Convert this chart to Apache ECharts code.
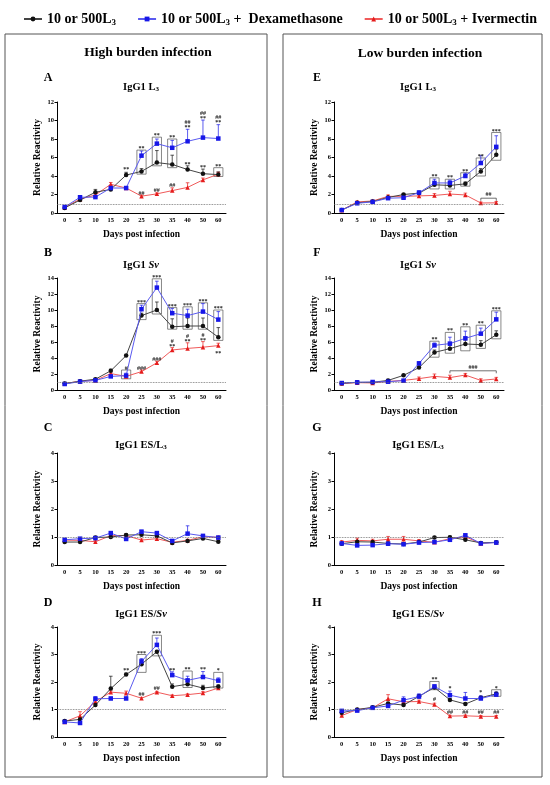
<!DOCTYPE html>
<html lang="en">
<head>
<meta charset="UTF-8">
<title>IgG1 reactivity</title>
<script src="https://cdn.jsdelivr.net/npm/echarts@6/dist/echarts.min.js"></script>
<style>
  html, body { margin: 0; padding: 0; background: #fff; }
  #chart { width: 550px; height: 785px; }
</style>
</head>
<body>
<div id="chart"></div>
<script>
// x categories (days post infection)
var days = ['0', '5', '10', '15', '20', '25', '30', '35', '40', '50', '60'];
var NAME_CTRL = '10 or 500L3';
var NAME_DEX = '10 or 500L3 +  Dexamethasone';
var NAME_IVM = '10 or 500L3 + Ivermectin';

// A - high burden, IgG1 L3
var aCtrl = [0.55, 1.4, 2.25, 2.55, 4.1, 4.5, 5.45, 5.25, 4.7, 4.25, 4.15];
var aDex = [0.65, 1.7, 1.72, 2.7, 2.7, 6.2, 7.5, 7.05, 7.75, 8.15, 8.05];
var aIvm = [0.6, 1.5, 1.95, 3.1, 2.7, 1.82, 2.07, 2.42, 2.77, 3.58, 4.2];
var aCtrlErr = [0.05, 0.1, 0.3, 0.15, 0.3, 0.3, 1.3, 1.0, 0.4, 0.5, 0.3];
var aDexErr = [0.05, 0.1, 0.1, 0.2, 0.1, 0.5, 0.5, 0.8, 1.3, 1.9, 1.5];
var aIvmErr = [0.05, 0.1, 0.1, 0.2, 0.1, 0.1, 0.1, 0.3, 0.5, 0.2, 0.2];
var aBoxes = [[5, 4.2, 6.8], [6, 5.1, 8.2], [7, 4.9, 8.0], [10, 3.95, 4.9]];
var aMarks = [[4, 4.5, '**'], [5, 6.8, '**'], [6, 8.2, '**'], [7, 8.0, '**'], [8, 9.1, '##\n**'],
  [9, 10.1, '##\n**'], [10, 9.6, '##\n**'], [8, 5.1, '**'], [9, 4.8, '**'], [10, 4.9, '**'],
  [5, 2.0, '##'], [6, 2.25, '##'], [7, 2.8, '##']];

// B - high burden, IgG1 Sv
var bCtrl = [0.8, 1.1, 1.35, 2.4, 4.3, 9.3, 10.0, 7.9, 8.0, 8.0, 6.6];
var bDex = [0.75, 1.05, 1.2, 1.7, 1.8, 10.1, 12.8, 9.6, 9.3, 9.8, 8.8];
var bIvm = [0.8, 1.1, 1.2, 2.05, 1.7, 2.3, 3.4, 5.0, 5.2, 5.35, 5.55];
var bCtrlErr = [0.05, 0.1, 0.1, 0.2, 0.1, 0.3, 1.0, 1.0, 1.0, 1.0, 1.2];
var bDexErr = [0.05, 0.1, 0.1, 0.2, 0.3, 0.5, 0.8, 0.6, 0.8, 1.0, 1.0];
var bIvmErr = [0.05, 0.1, 0.1, 0.2, 0.1, 0.2, 0.2, 0.3, 0.7, 0.7, 0.3];
var bBoxes = [[4, 1.4, 2.5], [5, 8.8, 10.8], [6, 9.5, 13.9], [7, 7.6, 10.3], [8, 7.6, 10.4], [9, 7.6, 10.9], [10, 6.2, 10.0]];
var bMarks = [[4, 2.5, '#'], [5, 10.8, '***'], [6, 13.9, '***'], [7, 10.3, '***'], [8, 10.4, '***'],
  [9, 10.9, '***'], [10, 10.0, '***'], [5, 2.5, '###'], [6, 3.6, '###'], [7, 5.3, '#\n**'],
  [8, 5.9, '#\n**'], [9, 6.0, '#\n**'], [10, 4.4, '**']];

// C - high burden, IgG1 ES/L3
var cCtrl = [0.82, 0.82, 0.98, 1.0, 1.07, 1.08, 1.04, 0.79, 0.86, 0.95, 0.83];
var cDex = [0.9, 0.94, 0.96, 1.14, 0.93, 1.19, 1.14, 0.86, 1.12, 1.04, 0.98];
var cIvm = [0.89, 0.88, 0.83, 1.05, 1.05, 0.89, 0.94, 0.81, 0.88, 1.01, 0.99];
var cCtrlErr = [0.03, 0.03, 0.04, 0.04, 0.04, 0.05, 0.04, 0.03, 0.03, 0.04, 0.03];
var cDexErr = [0.03, 0.03, 0.04, 0.05, 0.04, 0.05, 0.05, 0.03, 0.28, 0.05, 0.04];
var cIvmErr = [0.03, 0.03, 0.04, 0.05, 0.05, 0.04, 0.04, 0.03, 0.04, 0.04, 0.04];
var cBoxes = [];
var cMarks = [];

// D - high burden, IgG1 ES/Sv
var dCtrl = [0.58, 0.64, 1.16, 1.76, 2.27, 2.65, 3.1, 1.83, 1.92, 1.78, 1.84];
var dDex = [0.55, 0.51, 1.39, 1.4, 1.4, 2.75, 3.35, 2.25, 2.06, 2.18, 2.05];
var dIvm = [0.55, 0.77, 1.29, 1.63, 1.59, 1.41, 1.63, 1.5, 1.54, 1.6, 1.78];
var dCtrlErr = [0.03, 0.05, 0.05, 0.45, 0.05, 0.05, 0.05, 0.1, 0.1, 0.1, 0.05];
var dDexErr = [0.03, 0.05, 0.08, 0.05, 0.05, 0.1, 0.25, 0.12, 0.15, 0.2, 0.1];
var dIvmErr = [0.03, 0.15, 0.05, 0.05, 0.08, 0.03, 0.03, 0.03, 0.03, 0.05, 0.05];
var dBoxes = [[5, 2.35, 3.0], [6, 2.95, 3.7], [8, 1.8, 2.4], [10, 1.78, 2.35]];
var dMarks = [[4, 2.35, '**'], [5, 3.0, '***'], [6, 3.7, '***'], [7, 2.35, '**'], [8, 2.4, '**'],
  [9, 2.4, '**'], [10, 2.35, '*'], [5, 1.5, '##'], [6, 1.7, '##']];

// E - low burden, IgG1 L3
var eCtrl = [0.32, 1.1, 1.25, 1.68, 2.0, 2.15, 3.05, 2.98, 3.15, 4.5, 6.3];
var eDex = [0.32, 1.05, 1.2, 1.6, 1.65, 2.2, 3.25, 3.25, 4.0, 5.4, 7.15];
var eIvm = [0.3, 1.2, 1.3, 1.8, 1.8, 1.85, 1.9, 2.05, 1.95, 1.08, 1.1];
var eCtrlErr = [0.05, 0.1, 0.1, 0.1, 0.1, 0.1, 0.2, 0.2, 0.2, 0.3, 0.6];
var eDexErr = [0.05, 0.1, 0.1, 0.1, 0.1, 0.2, 0.4, 0.3, 0.3, 0.8, 1.2];
var eIvmErr = [0.05, 0.1, 0.1, 0.15, 0.1, 0.1, 0.2, 0.3, 0.2, 0.1, 0.15];
var eBoxes = [[6, 2.6, 3.8], [7, 2.6, 3.65], [8, 2.9, 4.35], [9, 4.0, 5.95], [10, 5.7, 8.7]];
var eMarks = [[6, 3.8, '**'], [7, 3.65, '**'], [8, 4.35, '**'], [9, 5.95, '**'], [10, 8.7, '***']];
var eBrackets = [[9, 10, 1.6, '##']];

// F - low burden, IgG1 Sv
var fCtrl = [0.83, 0.96, 0.96, 1.2, 1.83, 2.8, 4.7, 5.17, 5.75, 5.67, 6.9];
var fDex = [0.87, 0.96, 1.0, 1.04, 1.17, 3.33, 5.58, 5.8, 6.46, 7.04, 8.83];
var fIvm = [0.8, 0.92, 0.88, 1.08, 1.2, 1.42, 1.7, 1.55, 1.87, 1.2, 1.38];
var fCtrlErr = [0.05, 0.05, 0.05, 0.1, 0.1, 0.2, 0.3, 0.4, 0.5, 0.5, 0.5];
var fDexErr = [0.05, 0.05, 0.05, 0.1, 0.1, 0.2, 0.3, 0.8, 0.9, 0.7, 0.9];
var fIvmErr = [0.05, 0.05, 0.05, 0.1, 0.1, 0.2, 0.3, 0.3, 0.2, 0.2, 0.2];
var fBoxes = [[6, 4.1, 6.1], [7, 4.6, 7.2], [8, 4.9, 7.9], [9, 5.2, 8.1], [10, 6.4, 9.9]];
var fMarks = [[6, 6.1, '**'], [7, 7.2, '**'], [8, 7.9, '**'], [9, 8.1, '**'], [10, 9.9, '***']];
var fBrackets = [[7, 10, 2.4, '###']];

// G - low burden, IgG1 ES/L3
var gCtrl = [0.76, 0.83, 0.82, 0.77, 0.75, 0.82, 0.98, 0.99, 0.9, 0.79, 0.81];
var gDex = [0.77, 0.7, 0.71, 0.76, 0.74, 0.8, 0.82, 0.9, 1.06, 0.77, 0.8];
var gIvm = [0.82, 0.88, 0.86, 0.92, 0.92, 0.86, 0.81, 0.94, 1.01, 0.77, 0.81];
var gCtrlErr = [0.03, 0.04, 0.04, 0.03, 0.03, 0.04, 0.04, 0.04, 0.04, 0.03, 0.03];
var gDexErr = [0.03, 0.03, 0.03, 0.03, 0.03, 0.04, 0.04, 0.04, 0.05, 0.03, 0.03];
var gIvmErr = [0.05, 0.08, 0.06, 0.1, 0.1, 0.05, 0.05, 0.05, 0.05, 0.03, 0.03];
var gBoxes = [];
var gMarks = [];

// H - low burden, IgG1 ES/Sv
var hCtrl = [0.88, 1.0, 1.08, 1.22, 1.16, 1.48, 1.8, 1.35, 1.2, 1.43, 1.57];
var hDex = [0.95, 0.96, 1.06, 1.13, 1.34, 1.47, 1.84, 1.52, 1.4, 1.4, 1.54];
var hIvm = [0.78, 1.0, 1.06, 1.39, 1.28, 1.29, 1.18, 0.76, 0.77, 0.75, 0.75];
var hCtrlErr = [0.03, 0.03, 0.03, 0.04, 0.04, 0.04, 0.05, 0.04, 0.04, 0.04, 0.05];
var hDexErr = [0.03, 0.03, 0.03, 0.05, 0.12, 0.1, 0.05, 0.15, 0.22, 0.1, 0.1];
var hIvmErr = [0.03, 0.03, 0.03, 0.15, 0.05, 0.05, 0.05, 0.03, 0.03, 0.03, 0.03];
var hBoxes = [[6, 1.72, 2.02], [10, 1.48, 1.72]];
var hMarks = [[6, 2.02, '**'], [6, 1.3, '#'], [7, 1.7, '*'], [9, 1.55, '*'], [10, 1.72, '*'],
  [7, 0.85, '##'], [8, 0.85, '##'], [9, 0.85, '##'], [10, 0.85, '##']];

var SERIF = '"Liberation Serif", "DejaVu Serif", serif';
var COL_CTRL = '#111111', LINE_CTRL = '#444444';
var COL_DEX = '#1717e8', LINE_DEX = '#5a5af0';
var COL_IVM = '#e51c1c', LINE_IVM = '#f05a5a';

var panels = [
  { id: 'A', title: 'IgG1 L{sub|3}', col: 0, row: 0, max: 12, step: 2, vals: [aCtrl, aDex, aIvm], errs: [aCtrlErr, aDexErr, aIvmErr], boxes: aBoxes, marks: aMarks, brackets: [] },
  { id: 'B', title: 'IgG1 {i|Sv}', col: 0, row: 1, max: 14, step: 2, vals: [bCtrl, bDex, bIvm], errs: [bCtrlErr, bDexErr, bIvmErr], boxes: bBoxes, marks: bMarks, brackets: [] },
  { id: 'C', title: 'IgG1 ES/L{sub|3}', col: 0, row: 2, max: 4, step: 1, vals: [cCtrl, cDex, cIvm], errs: [cCtrlErr, cDexErr, cIvmErr], boxes: cBoxes, marks: cMarks, brackets: [] },
  { id: 'D', title: 'IgG1 ES/{i|Sv}', col: 0, row: 3, max: 4, step: 1, vals: [dCtrl, dDex, dIvm], errs: [dCtrlErr, dDexErr, dIvmErr], boxes: dBoxes, marks: dMarks, brackets: [] },
  { id: 'E', title: 'IgG1 L{sub|3}', col: 1, row: 0, max: 12, step: 2, vals: [eCtrl, eDex, eIvm], errs: [eCtrlErr, eDexErr, eIvmErr], boxes: eBoxes, marks: eMarks, brackets: eBrackets },
  { id: 'F', title: 'IgG1 {i|Sv}', col: 1, row: 1, max: 14, step: 2, vals: [fCtrl, fDex, fIvm], errs: [fCtrlErr, fDexErr, fIvmErr], boxes: fBoxes, marks: fMarks, brackets: fBrackets },
  { id: 'G', title: 'IgG1 ES/L{sub|3}', col: 1, row: 2, max: 4, step: 1, vals: [gCtrl, gDex, gIvm], errs: [gCtrlErr, gDexErr, gIvmErr], boxes: gBoxes, marks: gMarks, brackets: [] },
  { id: 'H', title: 'IgG1 ES/{i|Sv}', col: 1, row: 3, max: 4, step: 1, vals: [hCtrl, hDex, hIvm], errs: [hCtrlErr, hDexErr, hIvmErr], boxes: hBoxes, marks: hMarks, brackets: [] }
];

// layout of the panels
var gridLeft = [57, 334];
var gridWidth = [169, 170];
var gridTop = [102, 278, 453, 627];
var gridHeight = [111, 112, 112, 110];
var letterX = [48, 317];
var letterY = [78, 253, 428, 603];
var titleX = [141, 418];
var titleY = [87, 265, 445, 614];

var richTitle = {
  sub: { fontSize: 7, fontWeight: 'bold', fontFamily: SERIF, padding: [5, 0, 0, 0] },
  i: { fontSize: 10.5, fontWeight: 'bold', fontStyle: 'italic', fontFamily: SERIF }
};

var myChart = echarts.init(document.getElementById('chart'));

var grids = [], xAxes = [], yAxes = [], series = [];
var graphics = [
  { type: 'rect', shape: { x: 5, y: 34, width: 262, height: 743 }, style: { fill: 'none', stroke: '#555', lineWidth: 1 } },
  { type: 'rect', shape: { x: 283, y: 34, width: 259, height: 743 }, style: { fill: 'none', stroke: '#555', lineWidth: 1 } },
  { type: 'text', x: 148, y: 53, style: { text: 'High burden infection', font: 'bold 13.5px ' + SERIF, fill: '#000', align: 'center', verticalAlign: 'middle' } },
  { type: 'text', x: 420, y: 54, style: { text: 'Low burden infection', font: 'bold 13.5px ' + SERIF, fill: '#000', align: 'center', verticalAlign: 'middle' } }
];

function errSeries(gi, vals, errs, color) {
  return {
    type: 'custom', xAxisIndex: gi, yAxisIndex: gi, silent: true, z: 1,
    data: vals.map(function (v, i) { return [i, v, errs[i]]; }),
    renderItem: function (params, api) {
      var p = api.coord([api.value(0), api.value(1)]);
      var t = api.coord([api.value(0), api.value(1) + api.value(2)]);
      return {
        type: 'group', children: [
          { type: 'line', shape: { x1: p[0], y1: p[1], x2: t[0], y2: t[1] }, style: { stroke: color, lineWidth: 0.7 } },
          { type: 'line', shape: { x1: t[0] - 1.8, y1: t[1], x2: t[0] + 1.8, y2: t[1] }, style: { stroke: color, lineWidth: 0.7 } }
        ]
      };
    }
  };
}

function boxSeries(gi, boxes) {
  return {
    type: 'custom', xAxisIndex: gi, yAxisIndex: gi, silent: true, z: 0,
    data: boxes,
    renderItem: function (params, api) {
      var lo = api.coord([api.value(0), api.value(1)]);
      var hi = api.coord([api.value(0), api.value(2)]);
      var bw = api.size([1, 0])[0];
      return {
        type: 'rect',
        shape: { x: lo[0] - bw * 0.3, y: hi[1], width: bw * 0.6, height: lo[1] - hi[1] },
        style: { fill: 'none', stroke: '#555', lineWidth: 0.7 }
      };
    }
  };
}

function markSeries(gi, marks) {
  return {
    type: 'custom', xAxisIndex: gi, yAxisIndex: gi, silent: true, z: 5,
    data: marks.map(function (m) { return [m[0], m[1]]; }),
    renderItem: function (params, api) {
      var p = api.coord([api.value(0), api.value(1)]);
      return {
        type: 'text', x: p[0], y: p[1] + 1,
        style: { text: marks[params.dataIndex][2], font: 'bold 6px ' + SERIF, fill: '#222', align: 'center', verticalAlign: 'bottom', lineHeight: 5 }
      };
    }
  };
}

function bracketSeries(gi, brackets) {
  return {
    type: 'custom', xAxisIndex: gi, yAxisIndex: gi, silent: true, z: 5,
    data: brackets.map(function (b) { return [b[0], b[1], b[2]]; }),
    renderItem: function (params, api) {
      var a = api.coord([api.value(0), api.value(2)]);
      var b = api.coord([api.value(1), api.value(2)]);
      return {
        type: 'group', children: [
          { type: 'line', shape: { x1: a[0], y1: a[1], x2: b[0], y2: b[1] }, style: { stroke: '#333', lineWidth: 0.7 } },
          { type: 'line', shape: { x1: a[0], y1: a[1], x2: a[0], y2: a[1] + 2.5 }, style: { stroke: '#333', lineWidth: 0.7 } },
          { type: 'line', shape: { x1: b[0], y1: b[1], x2: b[0], y2: b[1] + 2.5 }, style: { stroke: '#333', lineWidth: 0.7 } },
          { type: 'text', x: (a[0] + b[0]) / 2, y: a[1] - 0.5, style: { text: brackets[params.dataIndex][3], font: 'bold 6px ' + SERIF, fill: '#222', align: 'center', verticalAlign: 'bottom' } }
        ]
      };
    }
  };
}

panels.forEach(function (pn, gi) {
  grids.push({ left: gridLeft[pn.col], top: gridTop[pn.row], width: gridWidth[pn.col], height: gridHeight[pn.row] });
  xAxes.push({
    type: 'category', gridIndex: gi, data: days, boundaryGap: true,
    axisLine: { lineStyle: { color: '#000', width: 1 } },
    axisTick: { alignWithLabel: true, length: 2.5, lineStyle: { color: '#000' } },
    axisLabel: { interval: 0, fontSize: 6.5, fontWeight: 'bold', fontFamily: SERIF, color: '#000', margin: 4 },
    name: 'Days post infection', nameLocation: 'middle', nameGap: 17,
    nameTextStyle: { fontSize: 9.5, fontWeight: 'bold', fontFamily: SERIF, color: '#000' }
  });
  yAxes.push({
    type: 'value', gridIndex: gi, min: 0, max: pn.max, interval: pn.step,
    axisLine: { show: true, lineStyle: { color: '#000', width: 1 } },
    axisTick: { show: true, length: 2.5, lineStyle: { color: '#000' } },
    splitLine: { show: false },
    axisLabel: { fontSize: 6.5, fontWeight: 'bold', fontFamily: SERIF, color: '#000', margin: 3 },
    name: 'Relative Reactivity', nameLocation: 'middle', nameGap: 14,
    nameTextStyle: { fontSize: 9.5, fontWeight: 'bold', fontFamily: SERIF, color: '#000' }
  });

  series.push(boxSeries(gi, pn.boxes));
  series.push(errSeries(gi, pn.vals[0], pn.errs[0], COL_CTRL));
  series.push(errSeries(gi, pn.vals[1], pn.errs[1], COL_DEX));
  series.push(errSeries(gi, pn.vals[2], pn.errs[2], COL_IVM));

  series.push({
    name: NAME_CTRL, type: 'line', xAxisIndex: gi, yAxisIndex: gi, data: pn.vals[0],
    symbol: 'circle', symbolSize: 4.5, z: 3,
    itemStyle: { color: COL_CTRL }, lineStyle: { color: LINE_CTRL, width: 1 },
    markLine: {
      silent: true, symbol: ['none', 'none'], label: { show: false },
      lineStyle: { type: 'dotted', color: '#666', width: 0.8 },
      data: [{ yAxis: 1 }]
    }
  });
  series.push({
    name: NAME_DEX, type: 'line', xAxisIndex: gi, yAxisIndex: gi, data: pn.vals[1],
    symbol: 'rect', symbolSize: 4.5, z: 4,
    itemStyle: { color: COL_DEX }, lineStyle: { color: LINE_DEX, width: 1 }
  });
  series.push({
    name: NAME_IVM, type: 'line', xAxisIndex: gi, yAxisIndex: gi, data: pn.vals[2],
    symbol: 'triangle', symbolSize: 4.5, z: 2,
    itemStyle: { color: COL_IVM }, lineStyle: { color: LINE_IVM, width: 1 }
  });

  series.push(markSeries(gi, pn.marks));
  series.push(bracketSeries(gi, pn.brackets));

  graphics.push({ type: 'text', x: letterX[pn.col], y: letterY[pn.row], style: { text: pn.id, font: 'bold 12px ' + SERIF, fill: '#000', align: 'center', verticalAlign: 'middle' } });
  graphics.push({ type: 'text', x: titleX[pn.col], y: titleY[pn.row], style: { text: pn.title, font: 'bold 10.5px ' + SERIF, fill: '#000', align: 'center', verticalAlign: 'middle', rich: richTitle } });
});

option = {
  animation: false,
  backgroundColor: '#fff',
  legend: {
    data: [NAME_CTRL, NAME_DEX, NAME_IVM],
    left: 18, top: 7,
    itemWidth: 18, itemHeight: 6, itemGap: 21,
    textStyle: {
      fontSize: 14, fontWeight: 'bold', fontFamily: SERIF, color: '#000',
      rich: { sub: { fontSize: 9, fontWeight: 'bold', fontFamily: SERIF, color: '#000', padding: [7, 0, 0, 0] } }
    },
    formatter: function (name) { return name.replace('L3', 'L{sub|3}'); }
  },
  grid: grids,
  xAxis: xAxes,
  yAxis: yAxes,
  series: series,
  graphic: graphics
};

myChart.setOption(option);
</script>
</body>
</html>
